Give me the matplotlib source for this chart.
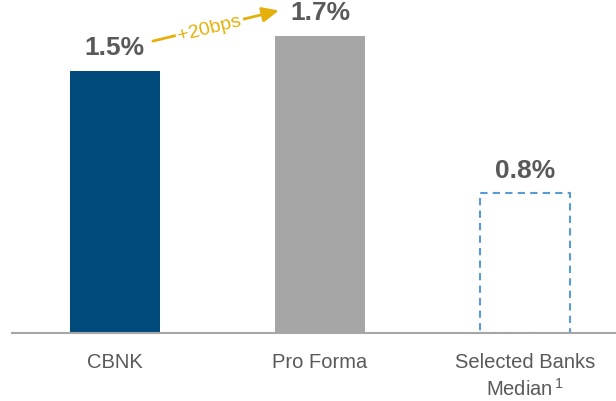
import matplotlib
matplotlib.use("Agg")
from matplotlib import pyplot as plt

categories = ["CBNK", "Pro Forma", "Selected Banks\nMedian$^{\\,1}$"]
values = [1.5, 1.7, 0.8]
labels = ["1.5%", "1.7%", "0.8%"]
change_label = "+20bps"

plt.rcParams['font.family'] = ['Liberation Sans', 'DejaVu Sans']
plt.rcParams['mathtext.fontset'] = 'custom'
plt.rcParams['mathtext.rm'] = 'Liberation Sans'
plt.rcParams['mathtext.it'] = 'Liberation Sans'
text_gray = '#595959'
gold = '#E5B00C'

fig = plt.figure(figsize=(6.16, 4.02), dpi=100)
ax = fig.add_axes([12 / 616, 68 / 402, 604 / 616, 334 / 402])

x = list(range(len(values)))
w = 0.44
ax.bar(x[0], values[0], width=w, color='#004A7C')
ax.bar(x[1], values[1], width=w, color='#A6A6A6')
ax.bar(x[2], values[2], width=w, facecolor='none', edgecolor='#5B9BD5',
       linestyle=(0, (3.5, 2.5)), linewidth=1.5)

for xi, v, lab in zip(x, values, labels):
    ax.annotate(lab, (xi, v), xytext=(0, 17), textcoords='offset points',
                ha='center', va='center', fontsize=19, fontweight='bold',
                color=text_gray)

# +20bps arrow between CBNK and Pro Forma
ax.annotate('', xy=(0.80, 1.846), xytext=(0.185, 1.671),
            arrowprops=dict(arrowstyle='-|>,head_length=1.0,head_width=0.45',
                            color=gold, lw=2, shrinkA=0, shrinkB=0))
ax.text(0.462, 1.745, change_label, rotation=14, ha='center', va='center',
        fontsize=14, color=gold,
        bbox=dict(facecolor='white', edgecolor='none', pad=1.5))

ax.set_xlim(-0.502, 2.444)
ax.set_ylim(0, 1.912)
for s in ['top', 'right', 'left']:
    ax.spines[s].set_visible(False)
ax.spines['bottom'].set_color('#A6A6A6')
ax.spines['bottom'].set_linewidth(1.5)
ax.set_yticks([])
ax.set_xticks(x)
ax.set_xticklabels(categories, fontsize=14.5, color=text_gray, linespacing=1.3)
ax.tick_params(axis='x', length=0, pad=14)

fig.savefig('out.png', dpi=100)
